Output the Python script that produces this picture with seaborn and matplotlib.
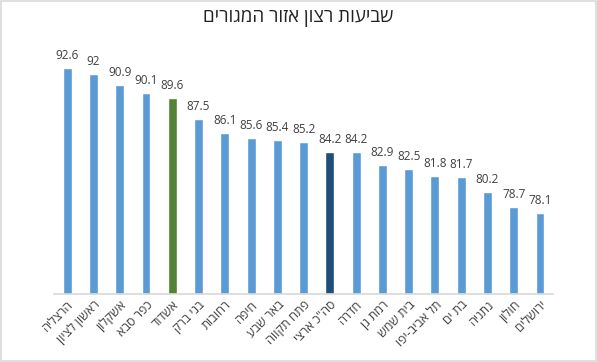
import matplotlib
matplotlib.use("Agg")
import matplotlib.pyplot as plt
import seaborn as sns
import pandas as pd
from matplotlib.patches import Rectangle

# city names (logical order), satisfaction values
cities = ['הרצליה', 'ראשון לציון', 'אשקלון', 'כפר סבא', 'אשדוד', 'בני ברק',
          'רחובות', 'חיפה', 'באר שבע', 'פתח תקווה', 'סה"כ ארצי', 'חדרה',
          'רמת גן', 'בית שמש', 'תל אביב-יפו', 'בת ים', 'נתניה', 'חולון', 'ירושלים']
values = [92.6, 92, 90.9, 90.1, 89.6, 87.5, 86.1, 85.6, 85.4, 85.2, 84.2, 84.2,
          82.9, 82.5, 81.8, 81.7, 80.2, 78.7, 78.1]
title = 'שביעות רצון אזור המגורים'

blue, green, navy = '#5B9BD5', '#548235', '#1F4E79'
colors = [green if c == 'אשדוד' else navy if c.startswith('סה') else blue for c in cities]


def rtl(s):
    # matplotlib has no bidi support: reverse Hebrew for visual order
    return s[::-1]


sns.set_theme(style='white')
plt.rcParams['font.family'] = ['Open Sans', 'DejaVu Sans']

df = pd.DataFrame({'city': [rtl(c) for c in cities], 'value': values})

fig = plt.figure(figsize=(5.97, 3.62), dpi=100)
ax = fig.add_axes([0.0905, 0.188, 0.836, 0.69])
sns.barplot(data=df, x='city', y='value', hue='city', palette=colors,
            legend=False, width=0.34, ax=ax, saturation=1)

ax.set_ylim(70, 95)
ax.set_xlim(-0.5, len(cities) - 0.5)
ax.set_xlabel('')
ax.set_ylabel('')
ax.set_yticks([])
for s in ['top', 'right', 'left']:
    ax.spines[s].set_visible(False)
ax.spines['bottom'].set_color('#d9d9d9')
ax.tick_params(axis='x', length=0, pad=3)
for lbl in ax.get_xticklabels():
    lbl.set_rotation(45)
    lbl.set_ha('right')
    lbl.set_rotation_mode('anchor')
    lbl.set_fontsize(9)
    lbl.set_color('#404040')

for i, v in enumerate(values):
    ax.text(i, v + 0.6, f'{v:g}', ha='center', va='bottom', fontsize=8.5, color='#404040')

fig.text(0.5, 0.95, rtl(title), ha='center', va='center', fontsize=13.5, color='#222222')

fig.patches.append(Rectangle((0.002, 0.003), 0.996, 0.994, transform=fig.transFigure,
                             fill=False, edgecolor='#d9d9d9', linewidth=1.2))

fig.savefig('out.png', dpi=100)
